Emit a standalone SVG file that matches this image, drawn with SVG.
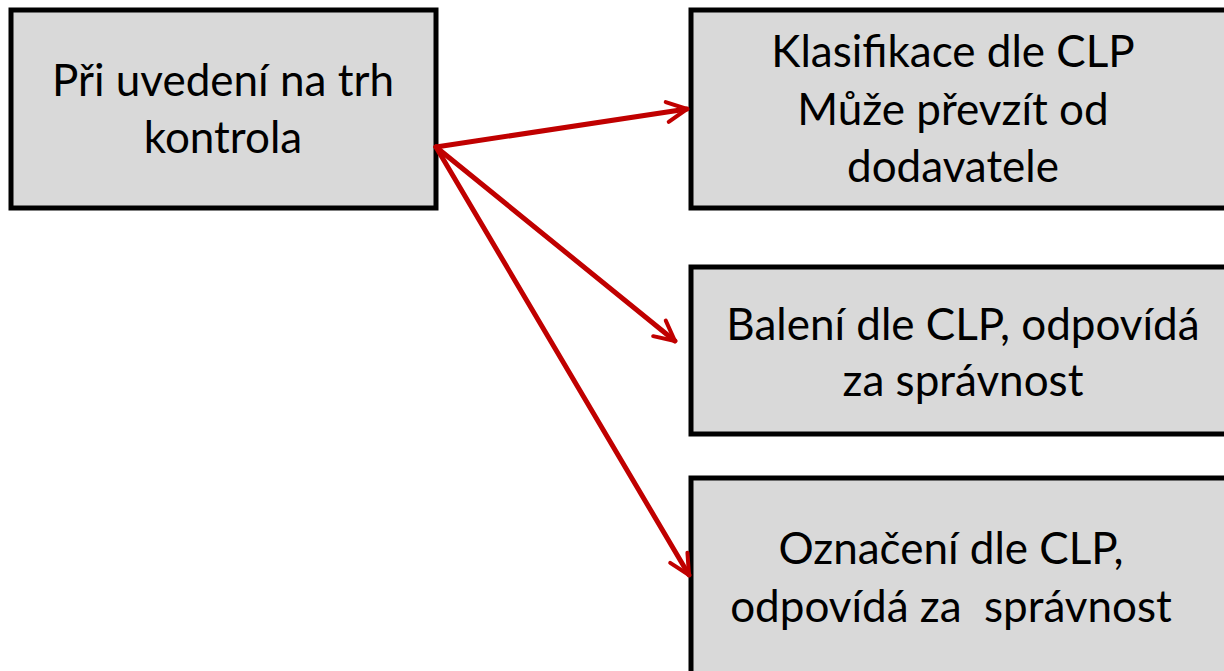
<svg xmlns="http://www.w3.org/2000/svg" width="1224" height="671" viewBox="0 0 1224 671">
<style>
.box{fill:#d9d9d9;stroke:#000;stroke-width:5}
.t{font-family:Lato,"Open Sans",sans-serif;font-size:44px;fill:#000;text-anchor:middle}
.c{stroke:#c00000;stroke-width:5;fill:none;stroke-linecap:round}
</style>
<defs>
<marker id="ah" viewBox="0 0 10 10" refX="9" refY="5" markerWidth="5" markerHeight="5" orient="auto" markerUnits="strokeWidth">
<path d="M1,1 L9,5 L1,9" fill="none" stroke="#c00000" stroke-width="1.6" stroke-linecap="round" stroke-linejoin="round"/>
</marker>
</defs>
<rect width="1224" height="671" fill="#fff"/>
<g id="n1"><rect class="box" x="11" y="10" width="425" height="198"/>
<text class="t" x="223" y="96">Při uvedení na trh</text><text class="t" x="223" y="153">kontrola</text></g>
<g id="n2"><rect class="box" x="691" y="10" width="540" height="198"/>
<text class="t" x="953" y="67">Klasifikace dle CLP</text><text class="t" x="953" y="125">Může převzít od</text><text class="t" x="953" y="182">dodavatele</text></g>
<g id="n3"><rect class="box" x="691" y="267" width="540" height="167"/>
<text class="t" x="963" y="340">Balení dle CLP, odpovídá</text><text class="t" x="963" y="396">za správnost</text></g>
<g id="n4"><rect class="box" x="691" y="478" width="540" height="200"/>
<text class="t" x="951" y="564" xml:space="preserve">Označení dle CLP,</text><text class="t" x="951" y="622" xml:space="preserve">odpovídá za  správnost</text></g>
<g id="connectors">
<line class="c" x1="436" y1="147" x2="687" y2="109" marker-end="url(#ah)"/>
<line class="c" x1="436" y1="147" x2="675" y2="341" marker-end="url(#ah)"/>
<line class="c" x1="436" y1="147" x2="689" y2="575" marker-end="url(#ah)"/>
</g>
</svg>
